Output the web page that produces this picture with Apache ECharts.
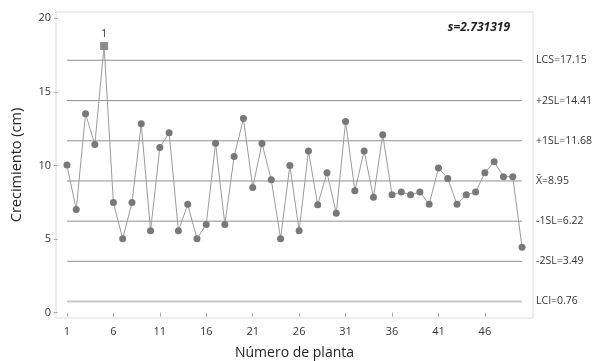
<!DOCTYPE html>
<html>
<head>
<meta charset="utf-8">
<script src="https://cdn.jsdelivr.net/npm/echarts@6/dist/echarts.min.js"></script>
<style>html,body{margin:0;padding:0;background:#fff}#c{width:605px;height:361px}</style>
</head>
<body>
<div id="c"></div>
<script>
var plantas = [];
for (var i = 1; i <= 50; i++) plantas.push(i);
var crecimiento = [
  10.03, 7.02, 13.51, 11.43, 18.12, 7.48, 5.03, 7.48, 12.83, 5.56,
  11.22, 12.22, 5.56, 7.36, 5.03, 6.00, 11.52, 6.00, 10.61, 13.19,
  8.51, 11.50, 9.03, 5.03, 10.00, 5.56, 10.98, 7.34, 9.51, 6.75,
  12.99, 8.29, 10.98, 7.84, 12.09, 8.02, 8.20, 8.02, 8.20, 7.36,
  9.83, 9.12, 7.36, 8.02, 8.20, 9.51, 10.26, 9.24, 9.24, 4.45
];
var outOfControl = [5];
var limitValues = [17.15, 14.41, 11.68, 8.95, 6.22, 3.49, 0.76];
var limitLabels = ['LCS=17.15', '+2SL=14.41', '+1SL=11.68', 'X\u0304=8.95', '-1SL=6.22', '-2SL=3.49', 'LCI=0.76'];
var xTicks = [1, 6, 11, 16, 21, 26, 31, 36, 41, 46];
var yTicks = [0, 5, 10, 15, 20];
var statText = 's=2.731319';

var FONT = '"Open Sans", "Noto Sans", sans-serif';
var chart = echarts.init(document.getElementById('c'), null, {renderer: 'canvas'});

var pts = plantas.map(function (p, i) {
  var item = {value: [p, crecimiento[i]]};
  if (outOfControl.indexOf(p) >= 0) {
    item.symbol = 'rect';
    item.symbolSize = 8;
    item.itemStyle = {color: '#8c8c8c'};
    item.label = {show: true, position: 'top', distance: 3, formatter: '1', color: '#222', fontSize: 10, fontFamily: FONT};
  }
  return item;
});

var series = limitValues.map(function (v, k) {
  var isLCI = k === limitValues.length - 1;
  return {
    type: 'line',
    data: [[plantas[0], v], [plantas[plantas.length - 1], v]],
    symbol: 'none',
    silent: true,
    z: 1,
    lineStyle: {color: isLCI ? '#c8c8c8' : '#909090', width: isLCI ? 2 : 1},
    endLabel: {show: true, formatter: limitLabels[k], distance: 14, color: '#333', fontSize: 10.5, fontFamily: FONT}
  };
});
series.push({
  type: 'line',
  data: pts,
  symbol: 'circle',
  symbolSize: 7,
  z: 3,
  lineStyle: {color: '#9a9a9a', width: 1},
  itemStyle: {color: '#787878'}
});

chart.setOption({
  animation: false,
  textStyle: {fontFamily: FONT},
  title: {
    text: statText, right: 90, top: 17,
    textStyle: {fontSize: 12, fontWeight: 'bold', fontStyle: 'italic', color: '#222', fontFamily: FONT}
  },
  grid: {left: 56, right: 72, top: 12, bottom: 43, show: true, borderColor: '#dcdcdc', borderWidth: 1,
         containLabel: false, outerBoundsMode: 'none'},
  xAxis: {
    type: 'value', min: -0.18, max: 51.18,
    name: 'Número de planta', nameLocation: 'middle', nameGap: 28,
    nameTextStyle: {fontSize: 14, color: '#222', fontFamily: FONT},
    axisLine: {show: false},
    splitLine: {show: false},
    axisTick: {show: true, length: 4, lineStyle: {color: '#aaa'}, customValues: xTicks},
    axisLabel: {customValues: xTicks, fontSize: 11, color: '#333', margin: 8, fontFamily: FONT}
  },
  yAxis: {
    type: 'value', min: -0.36, max: 20.43,
    name: 'Crecimiento (cm)', nameLocation: 'middle', nameGap: 32,
    nameTextStyle: {fontSize: 14.5, color: '#222', fontFamily: FONT},
    axisLine: {show: false},
    splitLine: {show: false},
    axisTick: {show: true, length: 4, lineStyle: {color: '#aaa'}, customValues: yTicks},
    axisLabel: {customValues: yTicks, fontSize: 11, color: '#333', margin: 5, fontFamily: FONT}
  },
  series: series
});
</script>
</body>
</html>
